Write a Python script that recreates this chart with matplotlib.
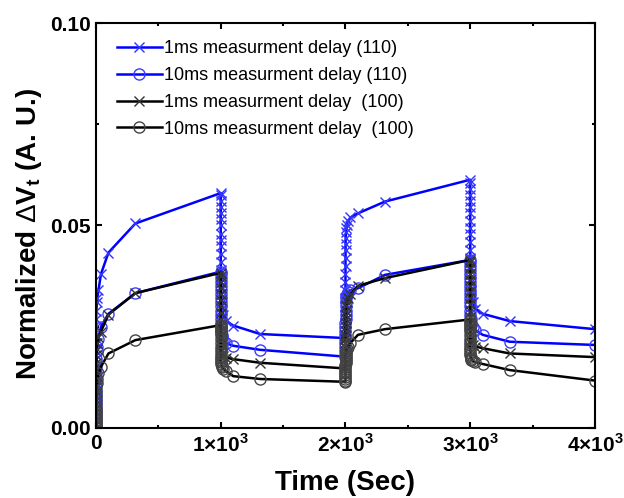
import numpy as np
import matplotlib
matplotlib.use("Agg")
import matplotlib.pyplot as plt
from matplotlib.ticker import MultipleLocator, FixedLocator, FixedFormatter

plt.rcParams['font.family'] = ['Liberation Sans', 'DejaVu Sans']
plt.rcParams['mathtext.fontset'] = 'custom'
plt.rcParams['mathtext.rm'] = 'Liberation Sans'
plt.rcParams['mathtext.bf'] = 'Liberation Sans:bold'

# time inside each stress / recovery phase (s), phase start times (s)
rel_time = [0.001, 0.002, 0.004, 0.007, 0.01, 0.02, 0.04, 0.07, 0.1, 0.2, 0.4,
            0.7, 1, 2, 4, 7, 10, 20, 40, 100, 316, 1000]
phase_start = [0, 1000, 2000, 3000]

# 1ms measurment delay (110)
dvt_1ms_110 = [
    [0.001, 0.003, 0.005, 0.007, 0.009, 0.011, 0.013, 0.015, 0.017, 0.019, 0.021,
     0.023, 0.025, 0.027, 0.029, 0.031, 0.032, 0.034, 0.038, 0.0433, 0.0505, 0.058],
    [0.0575, 0.056, 0.0545, 0.053, 0.0515, 0.050, 0.048, 0.0465, 0.045, 0.043, 0.041,
     0.039, 0.037, 0.035, 0.033, 0.031, 0.0295, 0.028, 0.0265, 0.0253, 0.0232, 0.0222],
    [0.0225, 0.024, 0.026, 0.028, 0.030, 0.032, 0.034, 0.036, 0.038, 0.040, 0.042,
     0.044, 0.0455, 0.047, 0.0485, 0.0495, 0.0502, 0.0511, 0.052, 0.053, 0.0559, 0.0613],
    [0.0605, 0.059, 0.0575, 0.056, 0.0545, 0.053, 0.051, 0.0495, 0.048, 0.046, 0.044,
     0.042, 0.040, 0.038, 0.036, 0.034, 0.0325, 0.031, 0.0295, 0.0282, 0.0264, 0.0244],
]
# 10ms measurment delay (110)
dvt_10ms_110 = [
    [0.0005, 0.0015, 0.0025, 0.0035, 0.0045, 0.0055, 0.0065, 0.0075, 0.0085, 0.0095, 0.011,
     0.012, 0.0135, 0.015, 0.017, 0.019, 0.020, 0.022, 0.025, 0.0282, 0.0333, 0.0386],
    [0.038, 0.037, 0.036, 0.035, 0.034, 0.033, 0.032, 0.031, 0.030, 0.029, 0.028,
     0.027, 0.026, 0.025, 0.024, 0.023, 0.0225, 0.0218, 0.021, 0.0203, 0.0193, 0.0176],
    [0.018, 0.019, 0.020, 0.021, 0.022, 0.023, 0.024, 0.025, 0.026, 0.027, 0.028,
     0.029, 0.030, 0.031, 0.032, 0.0325, 0.033, 0.0335, 0.034, 0.0345, 0.0378, 0.0415],
    [0.041, 0.040, 0.039, 0.038, 0.037, 0.036, 0.035, 0.034, 0.033, 0.032, 0.031,
     0.030, 0.029, 0.028, 0.027, 0.026, 0.0255, 0.025, 0.0242, 0.023, 0.0213, 0.0205],
]
# 1ms measurment delay (100)
dvt_1ms_100 = [
    [0.001, 0.002, 0.003, 0.004, 0.005, 0.006, 0.007, 0.008, 0.009, 0.0105, 0.012,
     0.013, 0.0145, 0.016, 0.018, 0.0195, 0.021, 0.0225, 0.0238, 0.028, 0.0333, 0.0383],
    [0.0375, 0.036, 0.0345, 0.033, 0.0315, 0.030, 0.0285, 0.027, 0.0255, 0.024, 0.0228,
     0.0216, 0.0205, 0.0196, 0.019, 0.0185, 0.018, 0.0177, 0.0174, 0.017, 0.0161, 0.0147],
    [0.015, 0.016, 0.017, 0.018, 0.019, 0.020, 0.021, 0.022, 0.023, 0.024, 0.025,
     0.026, 0.027, 0.028, 0.029, 0.030, 0.031, 0.032, 0.033, 0.0351, 0.037, 0.0415],
    [0.041, 0.0395, 0.038, 0.0365, 0.035, 0.0335, 0.032, 0.0305, 0.029, 0.0275, 0.026,
     0.025, 0.024, 0.023, 0.022, 0.0215, 0.021, 0.0205, 0.0201, 0.0197, 0.0184, 0.0175],
]
# 10ms measurment delay (100)
dvt_10ms_100 = [
    [0.0005, 0.001, 0.0015, 0.002, 0.0025, 0.003, 0.0035, 0.004, 0.0045, 0.005, 0.006,
     0.007, 0.008, 0.009, 0.010, 0.011, 0.012, 0.0135, 0.0151, 0.0184, 0.0217, 0.0254],
    [0.025, 0.0245, 0.024, 0.0235, 0.023, 0.022, 0.021, 0.020, 0.0192, 0.0185, 0.0178,
     0.0172, 0.0167, 0.0162, 0.0157, 0.0153, 0.015, 0.0146, 0.0141, 0.0128, 0.0121, 0.0114],
    [0.0115, 0.012, 0.0125, 0.013, 0.0135, 0.014, 0.0145, 0.015, 0.0155, 0.016, 0.0165,
     0.017, 0.0175, 0.018, 0.0185, 0.019, 0.0195, 0.020, 0.021, 0.023, 0.0244, 0.0268],
    [0.0265, 0.026, 0.0255, 0.025, 0.0245, 0.024, 0.023, 0.022, 0.0212, 0.0205, 0.0198,
     0.0192, 0.0186, 0.018, 0.0175, 0.0171, 0.0168, 0.0166, 0.0162, 0.0158, 0.0143, 0.0117],
]

labels = ["1ms measurment delay (110)", "10ms measurment delay (110)",
          "1ms measurment delay  (100)", "10ms measurment delay  (100)"]
x_ticks = [0, 1000, 2000, 3000, 4000]
x_tick_labels = ["0", "1×10$^\\mathbf{3}$", "2×10$^\\mathbf{3}$", "3×10$^\\mathbf{3}$", "4×10$^\\mathbf{3}$"]

time = np.concatenate([np.array(rel_time) + s for s in phase_start])

fig = plt.figure(figsize=(6.24, 4.98), dpi=100)
ax = fig.add_axes([0.1538, 0.1406, 0.7997, 0.8132])

styles = [
    dict(color="#0000ff", marker="x", mec="#3333ff", ms=7.5, mew=1.0),
    dict(color="#0000ff", marker="o", mec="#3c3cff", mfc="none", ms=8, mew=1.0),
    dict(color="#000000", marker="x", mec="#333333", ms=7.5, mew=1.0),
    dict(color="#000000", marker="o", mec="#444444", mfc="none", ms=8, mew=1.0),
]
series = [dvt_1ms_110, dvt_10ms_110, dvt_1ms_100, dvt_10ms_100]
for vals, st, lab in zip(series, styles, labels):
    y = np.concatenate(vals)
    ax.plot(time, y, lw=1.8, label=lab, **st)

ax.set_xlim(0, 4000)
ax.set_ylim(0, 0.10)
ax.xaxis.set_major_locator(FixedLocator(x_ticks))
ax.xaxis.set_major_formatter(FixedFormatter(x_tick_labels))
ax.xaxis.set_minor_locator(MultipleLocator(500))
ax.yaxis.set_major_locator(MultipleLocator(0.05))
ax.yaxis.set_minor_locator(MultipleLocator(0.025))
ax.yaxis.set_major_formatter(plt.FuncFormatter(lambda v, p: f"{v:.2f}"))
ax.tick_params(which="both", direction="in", top=True, right=True, width=1.5)
ax.tick_params(which="major", length=4.5, labelsize=15, pad=4)
ax.tick_params(which="minor", length=2.5)
for lbl in ax.get_xticklabels() + ax.get_yticklabels():
    lbl.set_fontweight("bold")
for sp in ax.spines.values():
    sp.set_linewidth(1.5)

ax.set_xlabel("Time (Sec)", fontsize=20, fontweight="bold", labelpad=10)
ax.set_ylabel("Normalized $\\mathrm{\\Delta}$V$_\\mathbf{t}$ (A. U.)", fontsize=20,
              fontweight="bold")
ax.yaxis.set_label_coords(-0.105, 0.48)

ax.legend(loc="upper left", bbox_to_anchor=(0.042, 0.958), frameon=False,
          fontsize=13, handlelength=2.5, handletextpad=0.1, labelspacing=0.55,
          borderaxespad=0, borderpad=0, numpoints=1)

fig.savefig("out.png", dpi=100)
